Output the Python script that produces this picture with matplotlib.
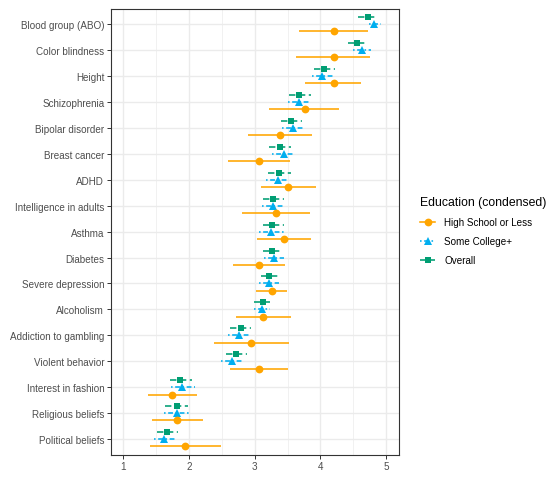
import numpy as np
import matplotlib
matplotlib.use("Agg")
import matplotlib.pyplot as plt
from matplotlib.lines import Line2D

matplotlib.rcParams['font.family'] = ['Liberation Sans', 'DejaVu Sans']

# categories, top to bottom
traits = ["Blood group (ABO)", "Color blindness", "Height", "Schizophrenia",
          "Bipolar disorder", "Breast cancer", "ADHD", "Intelligence in adults",
          "Asthma", "Diabetes", "Severe depression", "Alcoholism",
          "Addiction to gambling", "Violent behavior", "Interest in fashion",
          "Religious beliefs", "Political beliefs"]

# High School or Less
hs_mean = [4.20, 4.20, 4.20, 3.76, 3.38, 3.07, 3.51, 3.32, 3.44, 3.07, 3.26,
           3.13, 2.94, 3.07, 1.74, 1.82, 1.94]
hs_lo = [3.67, 3.63, 3.77, 3.22, 2.90, 2.59, 3.09, 2.81, 3.03, 2.67, 3.02,
         2.72, 2.38, 2.63, 1.37, 1.44, 1.41]
hs_hi = [4.72, 4.76, 4.62, 4.29, 3.87, 3.54, 3.93, 3.84, 3.86, 3.46, 3.49,
         3.55, 3.52, 3.51, 2.12, 2.21, 2.48]

# Some College+
sc_mean = [4.81, 4.63, 4.03, 3.67, 3.58, 3.44, 3.36, 3.28, 3.25, 3.29, 3.22,
           3.11, 2.76, 2.66, 1.90, 1.82, 1.62]
sc_lo = [4.74, 4.49, 3.87, 3.50, 3.42, 3.27, 3.17, 3.11, 3.07, 3.14, 3.07,
         2.99, 2.60, 2.49, 1.72, 1.62, 1.47]
sc_hi = [4.93, 4.77, 4.20, 3.85, 3.75, 3.62, 3.52, 3.45, 3.44, 3.45, 3.37,
         3.24, 2.93, 2.83, 2.09, 2.02, 1.79]

# Overall
ov_mean = [4.72, 4.56, 4.06, 3.68, 3.55, 3.39, 3.37, 3.28, 3.27, 3.26, 3.22,
           3.12, 2.79, 2.71, 1.87, 1.82, 1.67]
ov_lo = [4.58, 4.42, 3.90, 3.52, 3.40, 3.22, 3.21, 3.12, 3.12, 3.12, 3.10,
         2.99, 2.63, 2.56, 1.71, 1.63, 1.51]
ov_hi = [4.86, 4.71, 4.22, 3.86, 3.72, 3.56, 3.55, 3.45, 3.44, 3.41, 3.36,
         3.24, 2.95, 2.88, 2.04, 1.99, 1.83]

orange = "#FFA500"
blue = "#00AEEF"
green = "#009E73"

n = len(traits)
ypos = np.arange(n, 0, -1)

fig = plt.figure(figsize=(5.5, 4.81), dpi=100)
ax = fig.add_axes([0.2018, 0.0526, 0.5236, 0.9266])

blue_ls = (0, (1, 1.6, 3, 1.6))
green_ls = (0, (4, 2.2))

series = [
    ("Overall", ov_mean, ov_lo, ov_hi, green, "s", green_ls, 0.27, 5.0),
    ("Some College+", sc_mean, sc_lo, sc_hi, blue, "^", blue_ls, 0.0, 6.0),
    ("High School or Less", hs_mean, hs_lo, hs_hi, orange, "o", "-", -0.28, 5.6),
]

for name, m, lo, hi, col, mk, ls, off, ms in series:
    y = ypos + off
    ax.hlines(y, lo, hi, colors=col, linestyles=ls, linewidth=1.15, zorder=3)
    ax.plot(m, y, linestyle="none", marker=mk, color=col, markersize=ms,
            markeredgewidth=0, zorder=4)

ax.set_xlim(0.813, 5.196)
ax.set_ylim(0.4, 17.58)
ax.set_xticks([1, 2, 3, 4, 5])
ax.set_xticks([1.5, 2.5, 3.5, 4.5], minor=True)
ax.set_yticks(ypos)
ax.set_yticklabels(traits)

ax.grid(which="major", color="#EBEBEB", linewidth=1.0, zorder=0)
ax.grid(which="minor", axis="x", color="#EFEFEF", linewidth=0.6, zorder=0)
ax.set_axisbelow(True)
for s in ax.spines.values():
    s.set_color("#333333")
    s.set_linewidth(0.8)
ax.tick_params(axis="both", which="major", length=2.8, width=0.7, color="#333333",
               labelsize=7.1, labelcolor="#4D4D4D", pad=2)
ax.tick_params(axis="both", which="minor", length=0)

handles = [
    Line2D([], [], color=orange, linestyle="-", marker="o", markersize=5.6,
           markeredgewidth=0, linewidth=1.15),
    Line2D([], [], color=blue, linestyle=blue_ls, marker="^",
           markersize=6.0, markeredgewidth=0, linewidth=1.15),
    Line2D([], [], color=green, linestyle=green_ls, marker="s",
           markersize=5.0, markeredgewidth=0, linewidth=1.15),
]
leg = fig.legend(handles, ["High School or Less", "Some College+", "Overall"],
                 loc="upper left", bbox_to_anchor=(0.763, 0.5895), frameon=False,
                 title="Education (condensed)", alignment="left",
                 fontsize=7.1, title_fontsize=8.8, handlelength=1.6,
                 handletextpad=0.9, labelspacing=0.9, borderpad=0,
                 borderaxespad=0)

fig.savefig("out.png", dpi=100)
